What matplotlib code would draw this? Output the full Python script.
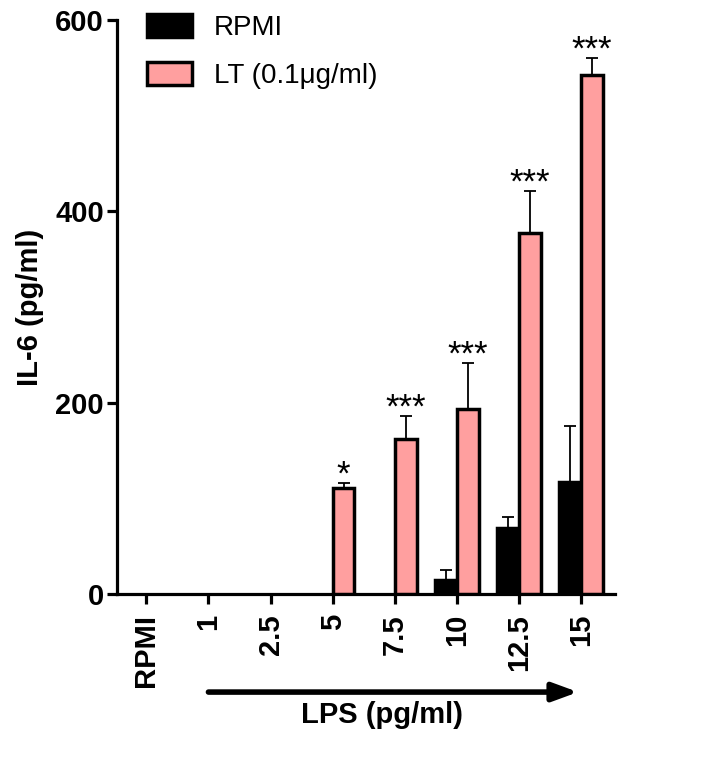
import matplotlib.pyplot as plt
from matplotlib.patches import Patch
import numpy as np

plt.rcParams['font.family'] = ['Liberation Sans', 'DejaVu Sans']

doses = ["RPMI", "1", "2.5", "5", "7.5", "10", "12.5", "15"]

# IL-6 (pg/ml), mean and upper error (SEM)
rpmi_mean = [0, 0, 0, 0, 0, 15, 69, 117]
rpmi_err = [0, 0, 0, 0, 0, 10, 11, 59]
lt_mean = [0, 0, 0, 111, 162, 193, 378, 543]
lt_err = [0, 0, 0, 5, 24, 49, 43, 18]
stars = ["", "", "", "*", "***", "***", "***", "***"]

pink = "#ff9f9f"

fig = plt.figure(figsize=(7.14, 7.67), dpi=100)
ax = fig.add_axes([0.164, 0.2256, 0.697, 0.748])

x = np.arange(len(doses))
w = 0.35

b1 = ax.bar(x - w / 2, rpmi_mean, w, color="black", edgecolor="black",
            linewidth=2.5, zorder=3)
b2 = ax.bar(x + w / 2, lt_mean, w, color=pink, edgecolor="black",
            linewidth=2.5, zorder=3)
# empty groups show nothing
for bars, vals in [(b1, rpmi_mean), (b2, lt_mean)]:
    for b, v in zip(bars, vals):
        if v == 0:
            b.set_visible(False)

for xs, m, e in [(x - w / 2, rpmi_mean, rpmi_err), (x + w / 2, lt_mean, lt_err)]:
    m = np.array(m)
    e = np.array(e)
    keep = e > 0
    ax.errorbar(xs[keep], m[keep], yerr=[np.zeros(keep.sum()), e[keep]],
                fmt="none", ecolor="black", elinewidth=1.3, capsize=4,
                capthick=1.3, zorder=2)

for xi, m, e, s in zip(x, lt_mean, lt_err, stars):
    if s:
        ax.text(xi + w / 2, m + e - 9, s, ha="center", va="bottom",
                fontsize=25)

ax.set_ylim(0, 600)
ax.set_xlim(-0.47, 7.54)
ax.set_yticks([0, 200, 400, 600])
ax.set_xticks(x)
ax.set_xticklabels(doses, rotation=90)
for lab in ax.get_xticklabels() + ax.get_yticklabels():
    lab.set_fontweight("bold")
    lab.set_fontsize(21)

ax.spines["top"].set_visible(False)
ax.spines["right"].set_visible(False)
for sp in ["left", "bottom"]:
    ax.spines[sp].set_linewidth(2.3)
ax.tick_params(width=2.3, length=7.5, direction="out")
ax.tick_params(axis="x", pad=7)
ax.tick_params(axis="y", pad=2)

ax.set_ylabel("IL-6 (pg/ml)", fontsize=21, fontweight="bold", labelpad=8)

# dose arrow under the tick labels
trans = ax.get_xaxis_transform()
ax.annotate("", xy=(6.95, -0.171), xytext=(1.0, -0.171), xycoords=trans,
            textcoords=trans,
            arrowprops=dict(arrowstyle="-|>,head_length=1.5,head_width=0.55",
                            lw=4, color="black", shrinkA=0, shrinkB=0))
fig.text(0.535, 0.068, "LPS (pg/ml)", ha="center", va="center",
         fontsize=21, fontweight="bold")

handles = [Patch(facecolor="black", edgecolor="black", linewidth=2.5),
           Patch(facecolor=pink, edgecolor="black", linewidth=2.5)]
ax.legend(handles, ["RPMI", "LT (0.1\u03bcg/ml)"], loc="upper left",
          bbox_to_anchor=(0.01, 1.055), frameon=False,
          fontsize=20, handlelength=1.6, handleheight=0.9,
          handletextpad=0.8, labelspacing=0.75)

fig.savefig("out.png", dpi=100)
